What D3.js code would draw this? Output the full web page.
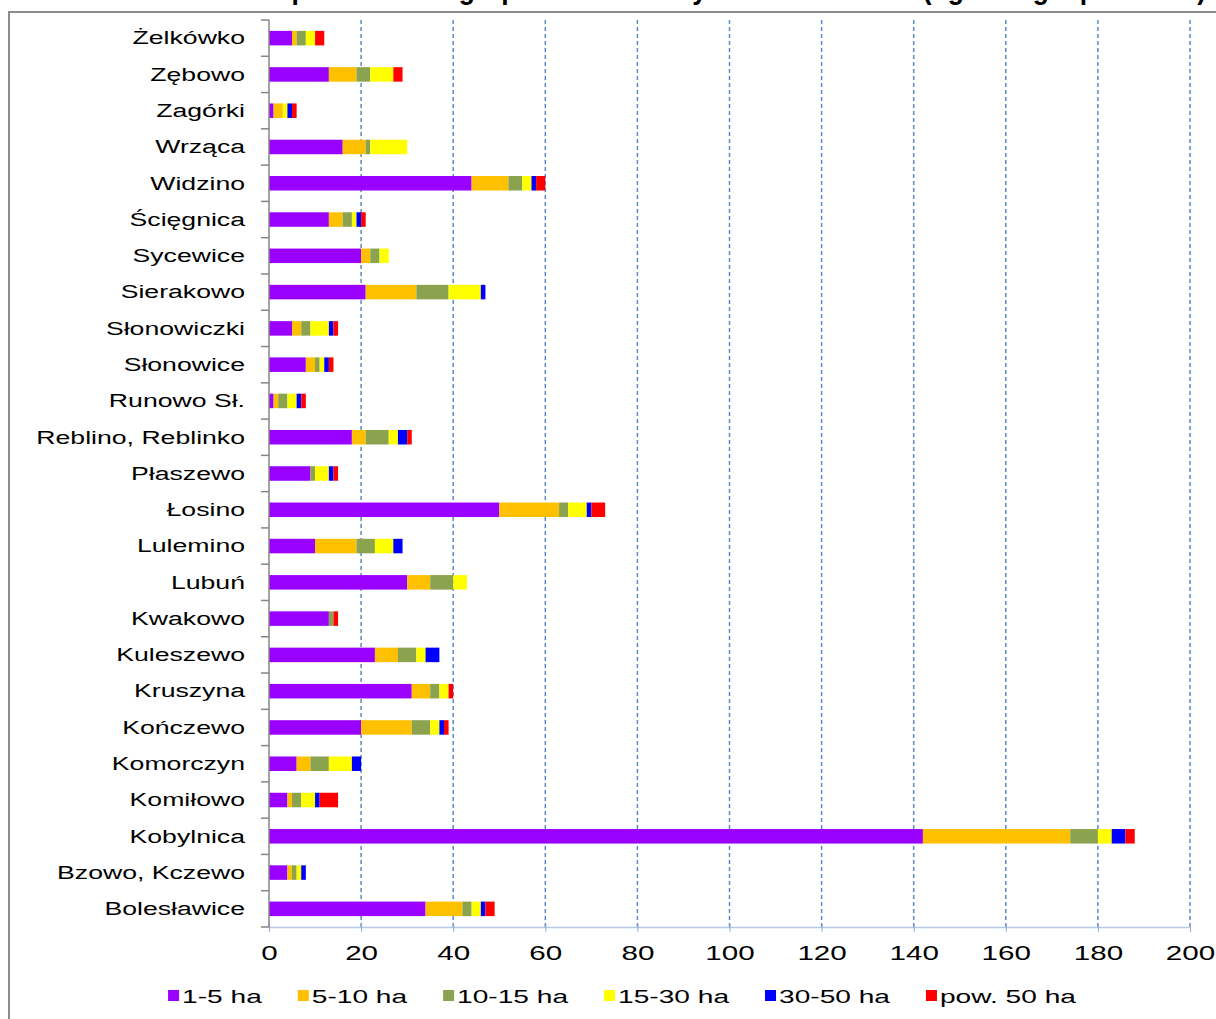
<!DOCTYPE html>
<html>
<head>
<meta charset="utf-8">
<script src="https://cdn.jsdelivr.net/npm/d3@7"></script>
<style>
  html, body { margin: 0; padding: 0; background: #fff; }
  svg { display: block; font-family: Arial, "Liberation Sans", sans-serif; }
</style>
</head>
<body>
<svg id="chart" width="1216" height="1019"></svg>
<script>
// Categories, top to bottom as drawn
const categories = [
  'Żelkówko', 'Zębowo', 'Zagórki', 'Wrząca', 'Widzino', 'Ścięgnica', 'Sycewice',
  'Sierakowo', 'Słonowiczki', 'Słonowice', 'Runowo Sł.', 'Reblino, Reblinko',
  'Płaszewo', 'Łosino', 'Lulemino', 'Lubuń', 'Kwakowo', 'Kuleszewo', 'Kruszyna',
  'Kończewo', 'Komorczyn', 'Komiłowo', 'Kobylnica', 'Bzowo, Kczewo', 'Bolesławice'
];

const seriesNames = ['1-5 ha', '5-10 ha', '10-15 ha', '15-30 ha', '30-50 ha', 'pow. 50 ha'];

const ha1_5   = [5, 13, 1, 16, 44, 13, 20, 21, 5, 8, 1, 18, 9, 50, 10, 30, 13, 23, 31, 20, 6, 4, 142, 4, 34];
const ha5_10  = [1, 6, 2, 5, 8, 3, 2, 11, 2, 2, 1, 3, 0, 13, 9, 5, 0, 5, 4, 11, 3, 1, 32, 1, 8];
const ha10_15 = [2, 3, 0, 1, 3, 2, 2, 7, 2, 1, 2, 5, 1, 2, 4, 5, 1, 4, 2, 4, 4, 2, 6, 1, 2];
const ha15_30 = [2, 5, 1, 8, 2, 1, 2, 7, 4, 1, 2, 2, 3, 4, 4, 3, 0, 2, 2, 2, 5, 3, 3, 1, 2];
const ha30_50 = [0, 0, 1, 0, 1, 1, 0, 1, 1, 1, 1, 2, 1, 1, 2, 0, 0, 3, 0, 1, 2, 1, 3, 1, 1];
const pow50   = [2, 2, 1, 0, 2, 1, 0, 0, 1, 1, 1, 1, 1, 3, 0, 0, 1, 0, 1, 1, 0, 4, 2, 0, 2];

const xTicks = [0, 20, 40, 60, 80, 100, 120, 140, 160, 180, 200];

const TITLE = 'Gospodarstwa w grupach obszarowych w sołectwach (ogółem gospodarstw)';

const COLORS = ['#9900ff', '#ffc000', '#8ba24f', '#ffff00', '#0000ff', '#ff0000'];
const STRETCH = 'scale(1.48,1)';   // the source picture is stretched sideways

const allSeries = [ha1_5, ha5_10, ha10_15, ha15_30, ha30_50, pow50];
const rows = categories.map((c, i) => {
  const r = { name: c };
  seriesNames.forEach((s, j) => { r[s] = allSeries[j][i]; });
  return r;
});

const svg = d3.select('#chart');

// Title – only its lower edge shows at the top of the picture
svg.append('text')
  .attr('x', 240)
  .attr('y', -1)
  .attr('font-size', 30)
  .attr('font-weight', 'bold')
  .attr('textLength', 966)
  .attr('lengthAdjust', 'spacingAndGlyphs')
  .text(TITLE);

// Outer frame
svg.append('rect')
  .attr('x', 9).attr('y', 12)
  .attr('width', 1300).attr('height', 1100)
  .attr('fill', 'none')
  .attr('stroke', '#8c8c8c')
  .attr('stroke-width', 2);

const x = d3.scaleLinear().domain([0, 200]).range([269, 1190]);
const y = d3.scaleBand().domain(categories).range([20, 927]);
const barH = y.bandwidth() * 0.4;

// Gridlines
svg.append('g')
  .selectAll('line')
  .data(xTicks.filter(t => t > 0))
  .join('line')
  .attr('x1', d => x(d)).attr('x2', d => x(d))
  .attr('y1', 20).attr('y2', 927)
  .attr('stroke', '#5b8ac6')
  .attr('stroke-width', 1.5)
  .attr('stroke-dasharray', '4,3');

// Stacked bars
const stack = d3.stack().keys(seriesNames);
const layers = stack(rows);

svg.append('g')
  .selectAll('g')
  .data(layers)
  .join('g')
  .attr('fill', (d, i) => COLORS[i])
  .selectAll('rect')
  .data(d => d)
  .join('rect')
  .attr('x', d => x(d[0]))
  .attr('width', d => x(d[1]) - x(d[0]))
  .attr('y', d => y(d.data.name) + (y.bandwidth() - barH) / 2)
  .attr('height', barH);

// X axis
const xAxis = svg.append('g')
  .attr('transform', 'translate(0,927)')
  .call(d3.axisBottom(x).tickValues(xTicks).tickSizeInner(5).tickSizeOuter(0).tickPadding(14));
xAxis.select('.domain').attr('stroke', '#b7c9e2').attr('stroke-width', 1.5);
xAxis.selectAll('.tick line').attr('stroke', '#8eaad0').attr('y1', -3);
xAxis.selectAll('.tick text')
  .attr('font-size', 20)
  .attr('font-family', 'Arial, "Liberation Sans", sans-serif')
  .attr('fill', '#000')
  .attr('transform', STRETCH);

// Y axis: line, boundary ticks, labels
const yAxis = svg.append('g');
yAxis.append('line')
  .attr('x1', 269).attr('x2', 269)
  .attr('y1', 20).attr('y2', 927)
  .attr('stroke', '#868686').attr('stroke-width', 1.5);
const bounds = categories.map(c => y(c)).concat([927]);
yAxis.selectAll('line.tk')
  .data(bounds)
  .join('line')
  .attr('class', 'tk')
  .attr('x1', 261).attr('x2', 269)
  .attr('y1', d => d).attr('y2', d => d)
  .attr('stroke', '#868686').attr('stroke-width', 1.5);
yAxis.selectAll('text')
  .data(categories)
  .join('text')
  .attr('transform', d => `translate(245,${y(d) + y.bandwidth() / 2}) ${STRETCH}`)
  .attr('text-anchor', 'end')
  .attr('dy', '0.35em')
  .attr('font-size', 18)
  .text(d => d);

// Legend
const legend = svg.append('g').attr('transform', 'translate(0,996)');
const items = legend.selectAll('g')
  .data(seriesNames)
  .join('g');
items.append('rect')
  .attr('width', 11).attr('height', 11)
  .attr('y', -6)
  .attr('fill', (d, i) => COLORS[i]);
items.append('text')
  .attr('transform', `translate(14,0) ${STRETCH}`)
  .attr('dy', '0.35em')
  .attr('font-size', 19)
  .text(d => d);

const widths = [];
items.each(function () {
  widths.push(14 + d3.select(this).select('text').node().getComputedTextLength() * 1.48);
});
const gap = 36;
const total = d3.sum(widths) + gap * (widths.length - 1);
let cx = 622 - total / 2;
items.attr('transform', (d, i) => {
  const t = `translate(${cx},0)`;
  cx += widths[i] + gap;
  return t;
});
</script>
</body>
</html>
